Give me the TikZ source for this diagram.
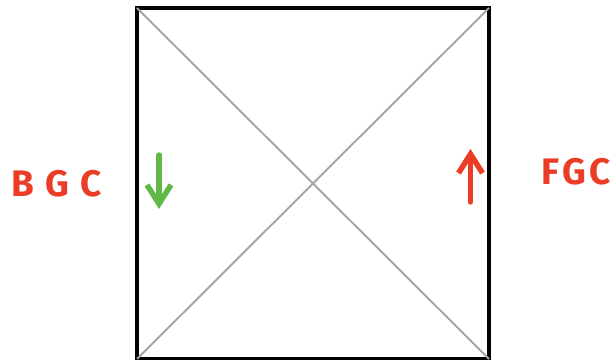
\documentclass[tikz,border=0pt]{standalone}
\usepackage{fontspec}
\setsansfont{Fira Sans}
\usetikzlibrary{arrows.meta,positioning}
\definecolor{markerRed}{RGB}{235, 60, 38}
\definecolor{markerGreen}{RGB}{96, 184, 72}
\definecolor{diagGray}{RGB}{165, 165, 165}

\begin{document}
\begin{tikzpicture}[
  panelbox/.style={
    draw,
    line width=2pt,
    minimum width=7.04cm,
    minimum height=7.02cm,
    inner sep=0pt,
    outer sep=0pt
  },
  diagline/.style={diagGray,line width=1.1pt},
  sidelabel/.style={
    text=markerRed,
    inner sep=0pt,
    font=\sffamily\bfseries\fontsize{21}{25}\selectfont\addfontfeature{LetterSpace=#1}
  },
  flowarrow/.style={-{Straight Barb[length=3.8mm,width=4.8mm]},line width=3.1pt,line cap=round}
]
  \useasboundingbox (0,0) rectangle (12.28,7.2);
  \node[panelbox] (panel) at (6.26,3.53) {};
  \draw[diagline] (panel.north west) -- (panel.south east);
  \draw[diagline] (panel.north east) -- (panel.south west);
  \node[sidelabel=30,left=0.7cm of panel.west] (bgc) {BGC};
  \node[sidelabel=10,right=1.04cm of panel.east,yshift=0.23cm] (fgc) {FGC};
  \coordinate (bgcStart) at (3.18,4.1);
  \coordinate (bgcEnd) at (3.18,3.02);
  \coordinate (fgcStart) at (9.41,3.16);
  \coordinate (fgcEnd) at (9.41,4.22);
  \draw[flowarrow,markerGreen] (bgcStart) -- (bgcEnd);
  \draw[flowarrow,markerRed] (fgcStart) -- (fgcEnd);
\end{tikzpicture}
\end{document}
